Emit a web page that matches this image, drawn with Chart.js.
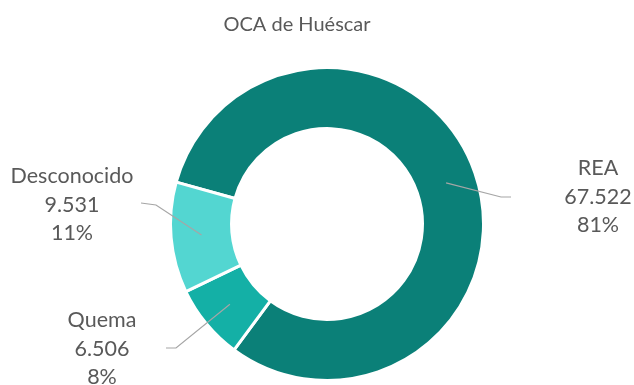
<!DOCTYPE html>
<html>
<head>
<meta charset="utf-8">
<script src="https://cdn.jsdelivr.net/npm/chart.js@4.4.1/dist/chart.umd.min.js"></script>
<style>
  html, body { margin: 0; padding: 0; background: #fff; }
  #wrap { width: 634px; height: 385px; position: relative; }
</style>
</head>
<body>
<div id="wrap"><canvas id="myChart"></canvas></div>
<script>
  let labels = ["REA", "Quema", "Desconocido"];
  let valores = [67522, 6506, 9531];
  let colores = ["#0b8078", "#14b0a6", "#53d6d1"];

  // where each label block sits and how its leader line bends (relative to the centre)
  let etiquetas = [
    { x: 271, y: -27, linea: [[174, -27], [184, -27]] },
    { x: -225, y: 125, linea: [[-151, 124], [-161, 124]] },
    { x: -255, y: -19, linea: [[-171, -19], [-186, -21]] }
  ];

  function fmt(n) {
    return n.toLocaleString("de-DE");
  }

  const etiquetasPlugin = {
    id: "etiquetas",
    afterDraw(chart) {
      const ctx = chart.ctx;
      const meta = chart.getDatasetMeta(0);
      const total = valores.reduce((a, b) => a + b, 0);

      // title
      ctx.save();
      ctx.fillStyle = "#595959";
      ctx.font = "20px Lato";
      ctx.textAlign = "center";
      ctx.textBaseline = "middle";
      ctx.fillText("OCA de Huéscar", 297, 25);
      ctx.restore();

      meta.data.forEach((arc, i) => {
        const p = arc.getProps(["x", "y", "startAngle", "endAngle", "innerRadius", "outerRadius"], true);
        const mid = (p.startAngle + p.endAngle) / 2;
        const r = (p.innerRadius + p.outerRadius) / 2;
        const ax = p.x + Math.cos(mid) * r;
        const ay = p.y + Math.sin(mid) * r;
        const e = etiquetas[i];

        ctx.save();
        ctx.strokeStyle = "#a6a6a6";
        ctx.lineWidth = 1.2;
        ctx.beginPath();
        ctx.moveTo(ax, ay);
        e.linea.forEach(pt => ctx.lineTo(p.x + pt[0], p.y + pt[1]));
        ctx.stroke();

        const lineas = [labels[i], fmt(valores[i]), Math.round(valores[i] / total * 100) + "%"];
        ctx.fillStyle = "#595959";
        ctx.font = "21.5px Lato";
        ctx.textAlign = "center";
        ctx.textBaseline = "middle";
        lineas.forEach((t, k) => {
          ctx.fillText(t, p.x + e.x, p.y + e.y + (k - 1) * 28.5);
        });
        ctx.restore();
      });
    }
  };

  let mychart = document.getElementById("myChart").getContext("2d");
  let chart = new Chart(mychart, {
    type: "doughnut",
    data: {
      labels: labels,
      datasets: [
        {
          data: valores,
          backgroundColor: colores,
          borderColor: "#ffffff",
          borderWidth: 3,
          hoverOffset: 0
        }
      ]
    },
    options: {
      responsive: true,
      maintainAspectRatio: false,
      animation: false,
      cutout: "61%",
      rotation: -74.5,
      layout: {
        padding: { top: 66, bottom: 3, left: 20, right: 0 }
      },
      plugins: {
        legend: { display: false },
        tooltip: { enabled: false }
      }
    },
    plugins: [etiquetasPlugin]
  });
</script>
</body>
</html>
